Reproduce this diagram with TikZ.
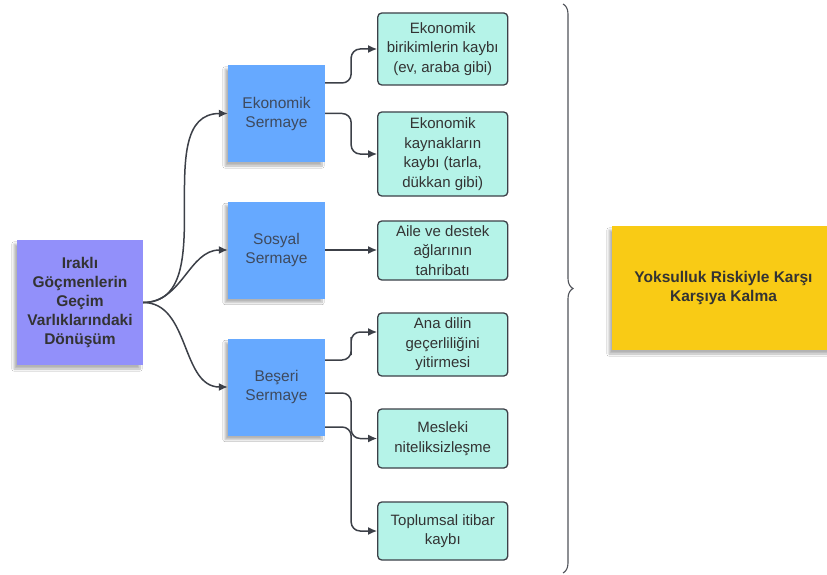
\documentclass[tikz,border=0pt]{standalone}
\usepackage{fontspec}
\setmainfont{Liberation Sans}
\usetikzlibrary{arrows.meta,calc,positioning,decorations.pathreplacing,shadows.blur}
\definecolor{notepurple}{HTML}{9290FA}
\definecolor{noteblue}{HTML}{66A9FF}
\definecolor{noteteal}{HTML}{B5F3E8}
\definecolor{noteyellow}{HTML}{F9CB15}
\definecolor{linegray}{HTML}{3C4048}
\definecolor{textgray}{HTML}{333333}
\definecolor{textblue}{HTML}{3E4A5E}
\tikzset{>={Latex[length=9pt,width=8pt]}}
\tikzset{
  note/.style={align=center, inner sep=0pt, text=textgray,
    font=\fontsize{15.5}{19}\selectfont,
    blur shadow={shadow xshift=-3pt, shadow yshift=-4pt, shadow opacity=30, shadow blur steps=8}},
  mainnote/.style={note, fill=notepurple, minimum width=126pt, minimum height=125pt,
    font=\fontsize{15.5}{19}\selectfont\bfseries},
  capnote/.style={note, fill=noteblue, text=textblue, minimum width=97pt, minimum height=97pt},
  outcome/.style={draw=linegray, line width=1.3pt, rounded corners=4pt, fill=noteteal,
    align=center, inner sep=0pt, text=textgray, minimum width=130pt,
    font=\fontsize{15}{19.5}\selectfont},
  conn/.style={->, draw=linegray, line width=1.5pt},
  elbow/.style={conn, rounded corners=9pt},
  bracket/.style={draw=linegray!90, line width=1.1pt, decorate, decoration={brace, amplitude=10pt}}
}
\begin{document}
\begin{tikzpicture}[x=1pt, y=-1pt]
\useasboundingbox[fill=white] (0,0) rectangle (827,575);

\node[mainnote] (goc) at (80,302.5) {Iraklı\\Göçmenlerin\\Geçim\\Varlıklarındaki\\Dönüşüm};

\node[capnote] (ekon) at (276.5,113.5) {Ekonomik\\Sermaye};
\node[capnote] (sosyal) at (276.5,250) {Sosyal\\Sermaye};
\node[capnote] (beseri) at (276.5,387) {Beşeri\\Sermaye};

\node[outcome, minimum height=72pt] (birikim) at (442.75,49) {Ekonomik\\birikimlerin kaybı\\(ev, araba gibi)};
\node[outcome, minimum height=84pt] (kaynak) at (442.75,154) {Ekonomik\\kaynakların\\kaybı (tarla,\\dükkan gibi)};
\node[outcome, minimum height=59pt] (aile) at (442.75,250.5) {Aile ve destek\\ağlarının\\tahribatı};
\node[outcome, minimum height=63pt] (anadil) at (442.75,344.5) {Ana dilin\\geçerliliğini\\yitirmesi};
\node[outcome, minimum height=59pt] (meslek) at (442.75,438.5) {Mesleki\\niteliksizleşme};
\node[outcome, minimum height=58pt] (itibar) at (442.75,531) {Toplumsal itibar\\kaybı};

\node[note, fill=noteyellow, minimum width=223pt, minimum height=124pt,
  font=\fontsize{15.5}{19}\selectfont\bfseries] (yoksul) at (723.5,288) {Yoksulluk Riskiyle Karşı\\Karşıya Kalma};

\draw[bracket] (563,4) -- (563,573);

\foreach \hedef in {ekon,sosyal,beseri}
{
\draw[conn] (goc.east) to[out=0,in=180] (\hedef.west);
}

\coordinate (ekonA) at ($(ekon.east)+(0,-30.5)$);
\coordinate (beseriA) at ($(beseri.east)+(0,-27)$);
\coordinate (beseriB) at ($(beseri.east)+(0,6)$);
\coordinate (beseriC) at ($(beseri.east)+(0,40)$);
\coordinate (anadilA) at ($(anadil.west)+(0,-12.5)$);

\draw[elbow] (ekonA) -| ($(ekonA)!0.5!(birikim.west)$) |- (birikim.west);
\draw[elbow] (ekon.east) -| ($(ekon.east)!0.5!(kaynak.west)$) |- (kaynak.west);
\draw[conn] (sosyal.east) -- (sosyal.east -| aile.west);
\draw[elbow] (beseriA) -| ($(beseriA)!0.5!(anadilA)$) |- (anadilA);
\draw[elbow] (beseriB) -| ($(beseriB)!0.5!(meslek.west)$) |- (meslek.west);
\draw[elbow] (beseriC) -| ($(beseriC)!0.5!(itibar.west)$) |- (itibar.west);

\end{tikzpicture}
\end{document}
